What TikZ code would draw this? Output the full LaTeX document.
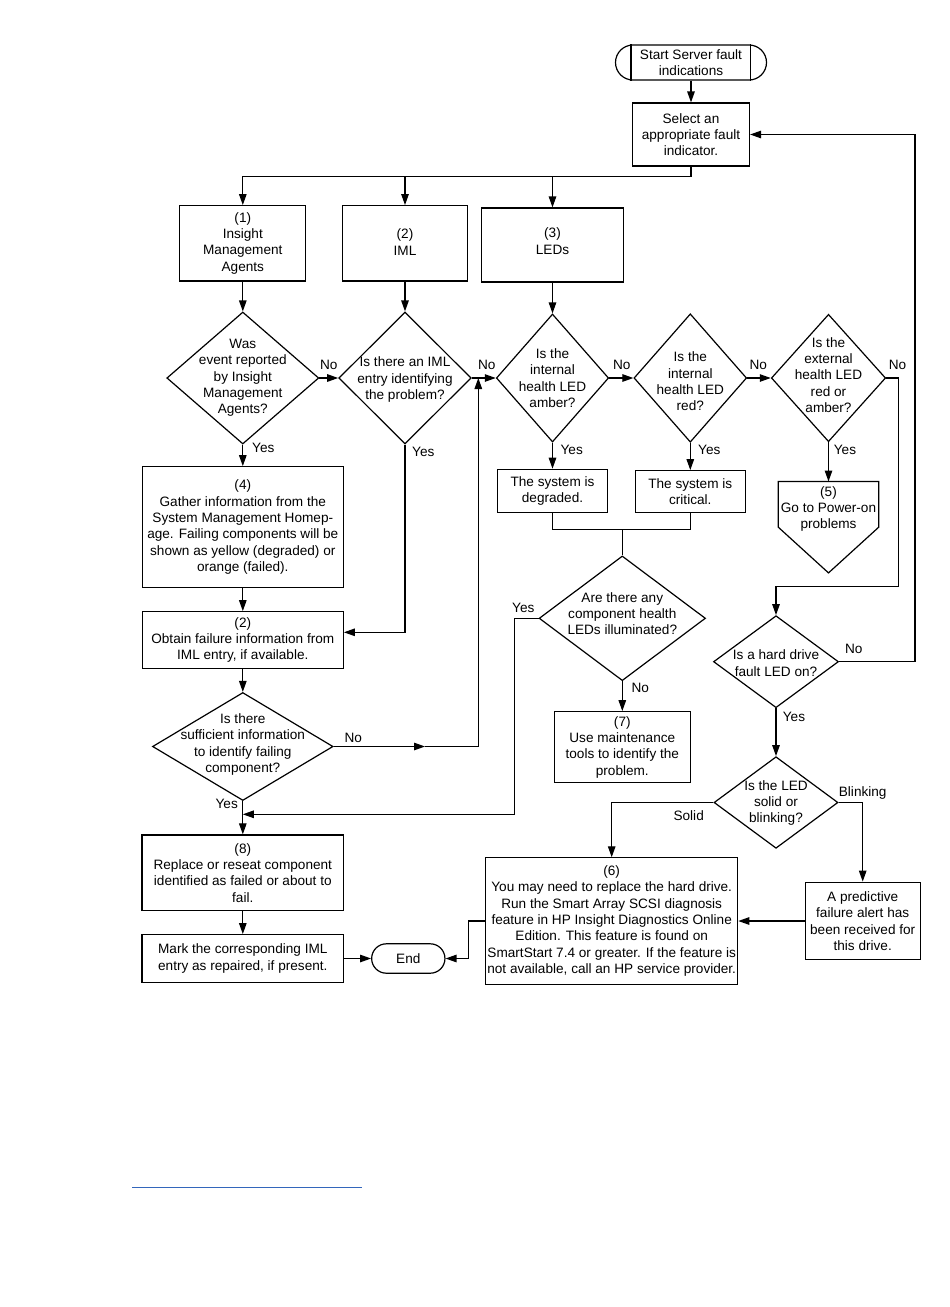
\documentclass[tikz,border=0pt]{standalone}
\usepackage{fontspec}
\setmainfont{Liberation Sans}
\usetikzlibrary{arrows.meta,shapes.geometric,calc}
\definecolor{linkblue}{RGB}{51,102,187}
\tikzset{
  box/.style={draw, line width=1.2pt, rectangle, inner sep=0pt, align=center},
  dia/.style={draw, line width=1.2pt, diamond, inner sep=0pt},
  txt/.style={align=center, inner sep=0pt},
  lbl/.style={inner sep=0pt},
  con/.style={line width=1.2pt},
  arr/.style={con, -{Triangle[length=11pt,width=7.5pt]}},
  sz/.style n args={2}{minimum width=#1, minimum height=#2}
}
\begin{document}
\begin{tikzpicture}[x=1pt,y=-1pt,font=\fontsize{13.6pt}{16.3pt}\selectfont]
\useasboundingbox (0,0) rectangle (950,1307);
\fill[white] (0,0) rectangle (950,1307);

% start
\node[box, rounded corners=17.5pt, sz={151pt}{35pt}] (st) at (691,62.5) {};
\draw[con] ([xshift=16pt]st.north west) -- ([xshift=16pt]st.south west);
\draw[con] ([xshift=-17pt]st.north east) -- ([xshift=-17pt]st.south east);
\node[txt] (stt) at (691,62.5) {Start Server fault\\indications};

\node[box, sz={117pt}{63pt}] (sel) at (691,134.5) {Select an\\appropriate fault\\indicator.};
\coordinate (bus) at (691,176.7);

\node[box, sz={126pt}{75.3pt}] (b1) at (242.8,243.3) {(1)\\Insight\\Management\\Agents};
\node[box, sz={125pt}{75.3pt}] (b2) at (405,243.3) {};
\node[txt] (b2t) at (405,242) {(2)\\IML};
\node[box, sz={141.3pt}{74pt}] (b3) at (552.5,245) {};
\node[txt] (b3t) at (552.5,241) {(3)\\LEDs};

% diamonds row
\node[dia, sz={152pt}{132pt}] (d1) at (242.8,378) {};
\node[txt] (d1t) at (242.8,378) {Was\\event reported\\by Insight\\Management\\Agents?};
\node[dia, sz={132.4pt}{132pt}] (d2) at (405,378) {};
\node[txt] (d2t) at (405,379.5) {Is there an IML\\entry identifying\\the problem?};
\node[dia, sz={112.3pt}{128pt}] (d3) at (552.5,378) {};
\node[txt] (d3t) at (552.5,378) {Is the\\internal\\health LED\\amber?};
\node[dia, sz={112.7pt}{128.4pt}] (d4) at (690.3,378) {};
\node[txt] (d4t) at (690.3,381.5) {Is the\\internal\\health LED\\red?};
\node[dia, sz={114.3pt}{127.4pt}] (d5) at (828.5,378) {};
\node[txt] (d5t) at (828.5,375) {Is the\\external\\health LED\\red or\\amber?};

% left column
\node[box, sz={201.3pt}{121pt}] (b4) at (242.8,527.2) {(4)\\Gather information from the\\System Management Homep-\\age. Failing components will be\\shown as yellow (degraded) or\\orange (failed).};
\node[box, sz={201pt}{56.6pt}] (b2b) at (242.8,640) {(2)\\Obtain failure information from\\IML entry, if available.};
\node[dia, sz={180.6pt}{108pt}] (suff) at (242.8,746.5) {};
\node[txt] (sufft) at (242.8,744.5) {Is there\\sufficient information\\to identify failing\\component?};
\node[box, sz={201.7pt}{75.7pt}] (b8) at (242.8,872.8) {(8)\\Replace or reseat component\\identified as failed or about to\\fail.};
\node[box, sz={201.7pt}{47.7pt}] (mark) at (242.8,958.5) {Mark the corresponding IML\\entry as repaired, if present.};
\node[box, rounded corners=14.7pt, sz={73.3pt}{29.4pt}] (end) at (408.3,958.5) {End};

% LED results
\node[box, sz={110pt}{43.4pt}] (deg) at (552.5,491) {The system is\\degraded.};
\node[box, sz={109.7pt}{42pt}] (crit) at (690.3,491.7) {The system is\\critical.};
\node[inner sep=0pt, sz={100pt}{91pt}] (p5) at (828.5,527.2) {};
\draw[con] (p5.north west) -- (p5.north east) -- (p5.east) -- (p5.south) -- (p5.west) -- cycle;
\node[txt] (p5t) at (828.5,509) {(5)\\Go to Power-on\\problems};

\coordinate (m1) at (622.3,529.3);
\node[dia, sz={166.4pt}{124.7pt}] (d6) at (622.3,618.3) {};
\node[txt] (d6t) at (622.3,613.5) {Are there any\\component health\\LEDs illuminated?};
\node[box, sz={136pt}{71pt}] (b7) at (622.3,747.2) {(7)\\Use maintenance\\tools to identify the\\problem.};

% hard drive
\node[dia, sz={125pt}{92pt}] (hd) at (776,661.7) {};
\node[txt] (hdt) at (776,663) {Is a hard drive\\fault LED on?};
\node[dia, sz={124pt}{91.6pt}] (led) at (776,802.5) {};
\node[txt] (ledt) at (776,803) {Is the LED\\solid or\\blinking?};
\node[box, sz={252pt}{126.3pt}] (b6) at (611.7,921) {(6)\\You may need to replace the hard drive.\\Run the Smart Array SCSI diagnosis\\feature in HP Insight Diagnostics Online\\Edition. This feature is found on\\SmartStart 7.4 or greater. If the feature is\\not available, call an HP service provider.};
\node[box, sz={115pt}{77.6pt}] (pred) at (862.7,921) {A predictive\\failure alert has\\been received for\\this drive.};

% coordinates for routing
\coordinate (j1) at (478.3,378);
\coordinate (sm) at (425,746.5);
\coordinate (y2) at (405,632.3);
\coordinate (k2) at (514.3,814.3);
\coordinate (r1) at (898.3,586.7);
\coordinate (rr) at (915,400);
\coordinate (q1) at (468.3,940);

% connectors
\draw[arr] (st.south) -- (sel.north);
\draw[con] (sel.south) -- (bus);
\draw[arr] (bus) -| (b1.north);
\draw[arr] (b2.north |- bus) -- (b2.north);
\draw[arr] (b3.north |- bus) -- (b3.north);
\draw[arr] (b1.south) -- (d1.north);
\draw[arr] (b2.south) -- (d2.north);
\draw[arr] (b3.south) -- (d3.north);
\draw[arr] (d1.east) -- (d2.west);
\draw[arr] (d2.east) -- (d3.west);
\draw[arr] (d3.east) -- (d4.west);
\draw[arr] (d4.east) -- (d5.west);
\draw[arr] (d1.south) -- (b4.north);
\draw[arr] (b4.south) -- (b2b.north);
\draw[arr] (d2.south) -- (y2) -- (b2b.east |- y2);
\draw[arr] (b2b.south) -- (suff.north);
\draw[arr] (suff.east) -- (sm);
\draw[arr] (sm) -| (j1);
\draw[arr] (suff.south) -- (b8.north);
\draw[arr] (b8.south) -- (mark.north);
\draw[arr] (mark.east) -- (end.west);
\draw[arr] (d3.south) -- (deg.north);
\draw[arr] (d4.south) -- (crit.north);
\draw[arr] (d5.south) -- (p5.north);
\draw[con] (deg.south) |- (m1) -| (crit.south);
\draw[con] (m1) -- (d6.north);
\draw[arr] (d6.west) -| (k2) -- (suff.south |- k2);
\draw[arr] (d6.south) -- (b7.north);
\draw[arr] (d5.east) -| (r1) -| (hd.north);
\draw[arr] (hd.east) -| (rr) |- (sel.east);
\draw[arr] (hd.south) -- (led.north);
\draw[arr] (led.west) -| (b6.north);
\draw[arr] (led.east) -| (pred.north);
\draw[arr] (pred.west) -- (b6.east);
\draw[arr] (b6.west) -| (q1) |- (end.east);

% labels
\node[lbl] (n1) at (328.7,365) {No};
\node[lbl] (n2) at (486.7,365) {No};
\node[lbl] (n3) at (621.7,365) {No};
\node[lbl] (n4) at (758.3,365) {No};
\node[lbl] (n5) at (897.5,365) {No};
\node[lbl] (y1) at (263.3,448.3) {Yes};
\node[lbl] (y2l) at (423.3,452.3) {Yes};
\node[lbl] (y3) at (571.7,450) {Yes};
\node[lbl] (y4) at (709.3,450) {Yes};
\node[lbl] (y5) at (845,450) {Yes};
\node[lbl] (y6) at (523.3,608.3) {Yes};
\node[lbl] (n6) at (640.3,687.7) {No};
\node[lbl] (n7) at (853.7,649) {No};
\node[lbl] (y7) at (794,716.7) {Yes};
\node[lbl] (bl) at (862.7,793.3) {Blinking};
\node[lbl] (so) at (688.7,816) {Solid};
\node[lbl] (n8) at (353.3,737.7) {No};
\node[lbl] (y8) at (226.7,804.3) {Yes};

% link underline
\draw[line width=1.6pt, linkblue] (132.3,1187.3) -- (361.7,1187.3);
\end{tikzpicture}
\end{document}
